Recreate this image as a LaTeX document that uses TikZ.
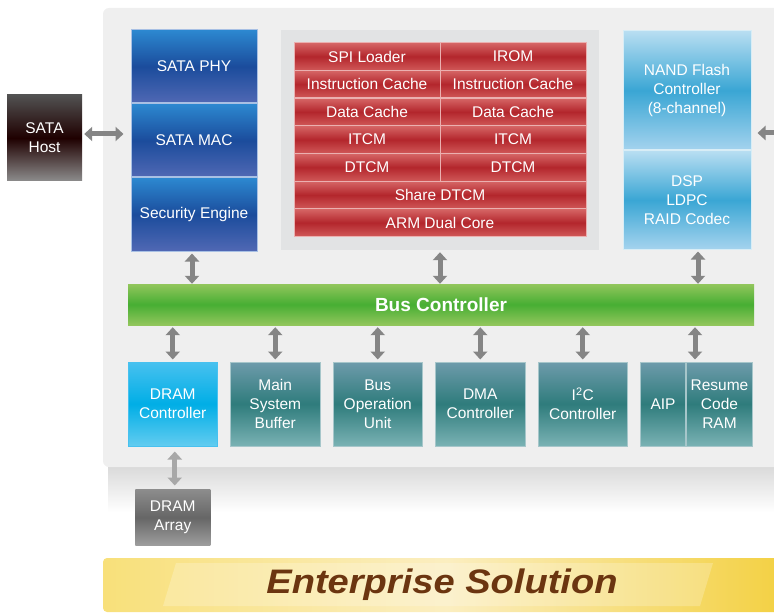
\documentclass[tikz,border=0pt]{standalone}
\usepackage{fontspec}
\setmainfont{Liberation Sans}
\newfontfamily\widefont[FakeStretch=1.12]{Liberation Sans}
\usetikzlibrary{arrows.meta,positioning}

\definecolor{paneltop}{HTML}{EFEFEF}
\definecolor{cpugray}{HTML}{E2E3E4}
\definecolor{arrowgray}{HTML}{858585}
\definecolor{arrowlight}{HTML}{A8A8A8}
\definecolor{bluetop}{HTML}{2C88D0}
\definecolor{bluemid}{HTML}{1B4C9C}
\definecolor{bluebot}{HTML}{5068B4}
\definecolor{blueedge}{HTML}{A8C0E4}
\definecolor{redtop}{HTML}{D66666}
\definecolor{redmid}{HTML}{B3262C}
\definecolor{redbot}{HTML}{D05858}
\definecolor{rededge}{HTML}{EBB0B0}
\definecolor{skytop}{HTML}{B8DEF2}
\definecolor{skymid}{HTML}{3AA6D4}
\definecolor{skybot}{HTML}{A4D3EE}
\definecolor{greentop}{HTML}{92C65C}
\definecolor{greenmid}{HTML}{47AE33}
\definecolor{tealtop}{HTML}{6E9BAB}
\definecolor{tealmid}{HTML}{2F7C7C}
\definecolor{tealbot}{HTML}{7AB2B4}
\definecolor{tealedge}{HTML}{A6C6CA}
\definecolor{drcyan}{HTML}{00AEE6}
\definecolor{drtop}{HTML}{48C1EF}
\definecolor{drbot}{HTML}{62CCF0}
\definecolor{bannerleft}{HTML}{F8E07A}
\definecolor{bannermid}{HTML}{FBEEC0}
\definecolor{bannerright}{HTML}{F3D040}
\definecolor{bannerbrown}{HTML}{6B3510}

\tikzset{
  blk/.style={inner sep=0pt, text=white, align=center,
    font=\fontsize{15.5}{19}\selectfont},
  bluecell/.style={blk, draw=blueedge, line width=1pt, top color=bluetop,
    bottom color=bluebot, middle color=bluemid, minimum width=126pt,
    minimum height=73pt},
  redcell/.style={blk, draw=rededge, line width=1pt, top color=redtop,
    bottom color=redbot, middle color=redmid, minimum width=146pt,
    minimum height=27.6pt},
  skycell/.style={blk, draw=white!80!skymid, line width=1pt, top color=skytop,
    bottom color=skybot, middle color=skymid, minimum width=128pt},
  tealcell/.style={blk, draw=tealedge, line width=1pt, top color=tealtop,
    bottom color=tealbot, middle color=tealmid, minimum width=89.5pt,
    minimum height=84pt},
  dbl/.style={{Triangle[width=14pt,length=8pt]}-{Triangle[width=14pt,length=8pt]},
    line width=5pt, draw=arrowgray},
}

\begin{document}
\begin{tikzpicture}[x=1pt,y=-1pt]
    \useasboundingbox (0,0) rectangle (774,615);
    \clip (0,0) rectangle (774,615);

    % main board with its shadow
    \shade[top color=black!16, bottom color=white] (108,462) rectangle (790,512);
    \fill[paneltop, rounded corners=6pt] (103,8) rectangle (790,467);

    % host side
    \node[blk, top color=black!68, bottom color=black!45, middle color=black!88!red,
      minimum width=75pt, minimum height=86pt] (host) at (44.5,138) {SATA\\Host};

    % SATA column
    \node[bluecell] (phy) at (194,66.5) {SATA PHY};
    \node[bluecell, below=0pt of phy] (mac) {SATA MAC};
    \node[bluecell, below=0pt of mac] (sec) {Security Engine};

    % CPU block
    \node[fill=cpugray, minimum width=318pt, minimum height=220pt, inner sep=0pt]
      (cpu) at (440,140) {};
    \foreach \i/\a/\b in {0/SPI Loader/IROM, 1/Instruction Cache/Instruction Cache,
        2/Data Cache/Data Cache, 3/ITCM/ITCM, 4/DTCM/DTCM} {
      \node[redcell] (redl\i) at (367,56.5+27.7*\i) {\a};
      \node[redcell] (redr\i) at (513,56.5+27.7*\i) {\b};
    }
    \node[redcell, minimum width=292pt] (share) at (440,195) {Share DTCM};
    \node[redcell, minimum width=292pt] (arm) at (440,222.7) {ARM Dual Core};

    % flash side
    \node[skycell, minimum height=119pt] (nand) at (687,90.5)
      {NAND Flash\\Controller\\(8-channel)};
    \node[skycell, minimum height=98pt, below=0pt of nand] (dsp)
      {DSP\\LDPC\\RAID Codec};

    % bus
    \node[blk, font=\bfseries\fontsize{19}{21}\selectfont,
      top color=greentop, bottom color=greentop, middle color=greenmid,
      minimum width=626pt, minimum height=41pt] (bus) at (441,304.5) {Bus Controller};

    % peripherals
    \node[tealcell, top color=drtop, bottom color=drbot, middle color=drcyan,
      draw=drtop] (dramc) at (172.75,404) {DRAM\\Controller};
    \node[tealcell, right=12pt of dramc] (msb) {Main\\System\\Buffer};
    \node[tealcell, right=12pt of msb] (bou) {Bus\\Operation\\Unit};
    \node[tealcell, right=12pt of bou] (dma) {DMA\\Controller};
    \node[tealcell, right=12pt of dma] (i2c) {I\textsuperscript{2}C\\Controller};
    \node[tealcell, minimum width=45pt, right=12pt of i2c] (aip) {AIP};
    \node[tealcell, minimum width=66pt, right=0pt of aip] (resume) {Resume\\Code\\RAM};

    \node[blk, top color=black!45, bottom color=black!38, middle color=black!60,
      minimum width=75pt, minimum height=56pt, below=43pt of dramc] (array) {DRAM\\Array};

    % links
    \coordinate (hostlink) at (0,134);
    \coordinate (nandlink) at (800,133);
    \draw[dbl, shorten <=2pt, shorten >=7pt] (host.east |- hostlink) -- (mac.west |- hostlink);
    \draw[dbl, shorten <=6pt] (nand.east |- nandlink) -- (nandlink);
    \draw[dbl, shorten <=2pt] ([xshift=-2pt]sec.south) -- ([xshift=-2pt]sec.south |- bus.north);
    \draw[dbl, shorten <=2pt] (cpu.south) -- (cpu.south |- bus.north);
    \draw[dbl, shorten <=2pt] ([xshift=11pt]dsp.south) -- ([xshift=11pt]dsp.south |- bus.north);
    \draw[dbl, shorten <=2pt, shorten >=2pt] (bus.south -| dramc) -- (dramc.north);
    \draw[dbl, shorten <=2pt, shorten >=2pt] (bus.south -| msb) -- (msb.north);
    \draw[dbl, shorten <=2pt, shorten >=2pt] (bus.south -| bou) -- (bou.north);
    \draw[dbl, shorten <=2pt, shorten >=2pt] (bus.south -| dma) -- (dma.north);
    \draw[dbl, shorten <=2pt, shorten >=2pt] (bus.south -| i2c) -- (i2c.north);
    \draw[dbl, shorten <=2pt, shorten >=2pt] (bus.south -| resume.north west)
      ++(9,0) coordinate (ramtop) -- (ramtop |- resume.north);
    \draw[dbl, draw=arrowlight, shorten <=5pt, shorten >=4pt] ([xshift=2pt]dramc.south)
      -- ([xshift=2pt]array.north);

    % banner
    \shade[left color=bannerleft, right color=bannerright, middle color=bannermid,
      rounded corners=4pt] (103,558) rectangle (790,612);
    \fill[white, opacity=0.22] (176,563) -- (713,563) -- (700,606) -- (163,606) -- cycle;
    \node[font=\widefont\fontsize{34}{36}\selectfont\bfseries\itshape, text=bannerbrown]
      (banner) at (442,585) {Enterprise Solution};
\end{tikzpicture}
\end{document}
